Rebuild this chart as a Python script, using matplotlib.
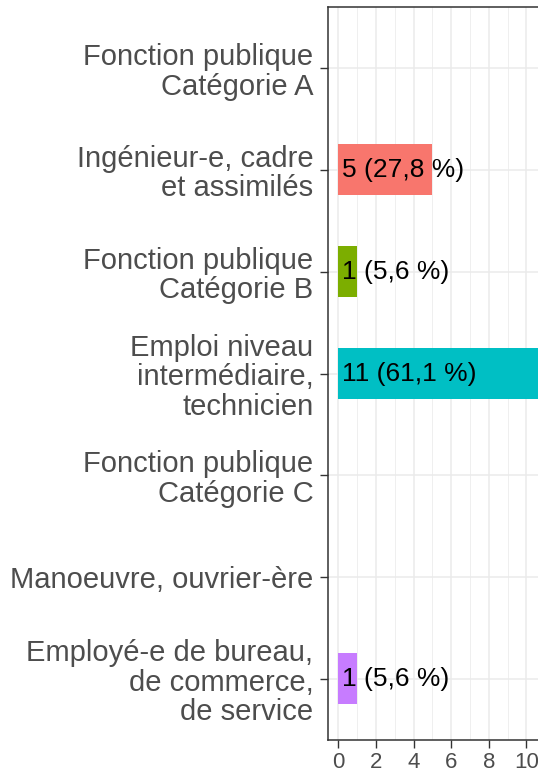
import matplotlib
matplotlib.use("Agg")
import matplotlib.pyplot as plt
from matplotlib.ticker import MultipleLocator

categories = [
    "Fonction publique\nCatégorie A",
    "Ingénieur-e, cadre\net assimilés",
    "Fonction publique\nCatégorie B",
    "Emploi niveau\nintermédiaire,\ntechnicien",
    "Fonction publique\nCatégorie C",
    "Manoeuvre, ouvrier-ère",
    "Employé-e de bureau,\nde commerce,\nde service",
]
counts = [0, 5, 1, 11, 0, 0, 1]
percents = [0.0, 27.8, 5.6, 61.1, 0.0, 0.0, 5.6]
bar_colors = [None, "#F8766D", "#7CAE00", "#00BFC4", None, None, "#C77CFF"]
xticks = [0, 2, 4, 6, 8, 10]

plt.rcParams["font.family"] = ["Liberation Sans", "DejaVu Sans"]

fig = plt.figure(figsize=(5.38, 7.72), dpi=100)
ax = fig.add_axes([328 / 538, 32 / 772, 227.5 / 538, 733 / 772])

ypos = list(range(len(categories)))
for y, n, pct, col in zip(ypos, counts, percents, bar_colors):
    if n == 0:
        continue
    ax.barh(y, n, height=0.5, color=col, zorder=2)
    label = f"{n} ({pct:.1f} %)".replace(".", ",")
    ax.text(0.2, y, label, ha="left", va="center", fontsize=19,
            color="black", zorder=3)

ax.set_ylim(len(categories) - 1 + 0.6, -0.6)
ax.set_xlim(-0.55, 11.55)
ax.set_yticks(ypos)
ax.set_yticklabels(categories, fontsize=21, color="#4D4D4D",
                   linespacing=1.07, multialignment="right")
ax.set_xticks(xticks)
ax.set_xticklabels([str(t) for t in xticks], fontsize=16, color="#4D4D4D")
ax.xaxis.set_minor_locator(MultipleLocator(1))

ax.grid(True, which="major", axis="both", color="#EBEBEB", lw=1.1, zorder=0)
ax.grid(True, which="minor", axis="x", color="#EBEBEB", lw=0.55, zorder=0)
ax.set_axisbelow(True)
ax.tick_params(axis="both", which="major", length=5.5, width=1.0,
               color="#333333")
ax.tick_params(axis="y", pad=5)
ax.tick_params(axis="x", pad=3)
ax.tick_params(which="minor", length=0)
for side in ["left", "bottom", "top"]:
    ax.spines[side].set_color("#333333")
    ax.spines[side].set_linewidth(1.1)
ax.spines["right"].set_visible(False)

fig.savefig("out.png", dpi=100)
